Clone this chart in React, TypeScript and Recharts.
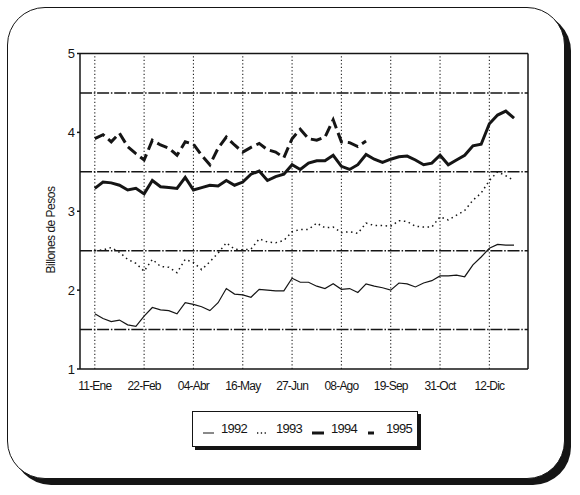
import React from "react";
import {
  LineChart,
  Line,
  XAxis,
  YAxis,
  ReferenceLine,
  Label,
} from "recharts";

// semanas (una cada 6 semanas lleva etiqueta)
const tickWeeks = [0, 6, 12, 18, 24, 30, 36, 42, 48];
const weekLabels = ["11-Ene", "22-Feb", "04-Abr", "16-May", "27-Jun", "08-Ago", "19-Sep", "31-Oct", "12-Dic"];
const yTicks = [1, 2, 3, 4, 5];
const gridLevels = [1.5, 2.5, 3.5, 4.5];

const v1992 = [
  1.7, 1.64, 1.6, 1.62, 1.56, 1.54, 1.67, 1.78, 1.75, 1.74, 1.7, 1.84, 1.82, 1.79, 1.74, 1.84, 2.02, 1.95, 1.94, 1.91,
  2.01, 2.0, 1.99, 1.99, 2.15, 2.1, 2.1, 2.05, 2.02, 2.08, 2.01, 2.02, 1.97, 2.08, 2.05, 2.03, 2.0, 2.09, 2.08, 2.04,
  2.09, 2.12, 2.18, 2.18, 2.19, 2.17, 2.32, 2.42, 2.53, 2.58, 2.57, 2.57,
];
const v1993 = [
  2.5, 2.51, 2.54, 2.48, 2.39, 2.34, 2.24, 2.39, 2.3, 2.29, 2.22, 2.39, 2.35, 2.26, 2.36, 2.47, 2.6, 2.52, 2.51, 2.52,
  2.65, 2.61, 2.6, 2.63, 2.74, 2.77, 2.77, 2.85, 2.79, 2.8, 2.73, 2.74, 2.72, 2.85, 2.82, 2.82, 2.81, 2.88, 2.87, 2.81,
  2.8, 2.8, 2.93, 2.89, 2.95, 3.01, 3.14, 3.23, 3.39, 3.5, 3.45, 3.39,
];
const v1994 = [
  3.29, 3.37, 3.36, 3.33, 3.27, 3.29, 3.22, 3.39, 3.31, 3.3, 3.29, 3.43, 3.27, 3.3, 3.33, 3.32, 3.39, 3.33, 3.37, 3.47,
  3.51, 3.39, 3.44, 3.47, 3.59, 3.53, 3.61, 3.64, 3.64, 3.71, 3.57, 3.53, 3.59, 3.72, 3.66, 3.62, 3.66, 3.69, 3.7, 3.65,
  3.59, 3.61, 3.71, 3.59, 3.65, 3.71, 3.83, 3.85, 4.11, 4.22, 4.27, 4.18,
];
const v1995 = [
  3.92, 3.97, 3.88, 3.99, 3.82, 3.73, 3.65, 3.9, 3.84, 3.8, 3.71, 3.88, 3.85, 3.71, 3.59, 3.8, 3.94, 3.84, 3.75, 3.81,
  3.86, 3.78, 3.75, 3.68, 3.92, 4.04, 3.92, 3.9, 3.94, 4.16, 3.88, 3.87, 3.82, 3.89,
];

const data = v1992.map((v, i) => ({
  week: i,
  y1992: v,
  y1993: v1993[i],
  y1994: v1994[i],
  y1995: i < v1995.length ? v1995[i] : null,
}));

const X_MIN = -1.8;
const X_MAX = 52.7;
const FONT = "'Liberation Sans', Arial, sans-serif";
const INK = "#151515";

const labelFor = (w: number) => weekLabels[tickWeeks.indexOf(w)] ?? "";

const YTitle = () => (
  <text
    x={52}
    y={230}
    transform="rotate(-90 52 230)"
    textAnchor="middle"
    dominantBaseline="middle"
    fontSize={12}
    letterSpacing={-0.5}
    fill={INK}
    fontFamily={FONT}
  >
    Billones de Pesos
  </text>
);

const LegendBox = () => (
  <div
    style={{
      position: "absolute",
      left: 192,
      top: 411,
      width: 226,
      height: 36,
      border: `1px solid ${INK}`,
      boxShadow: `3px 3px 0 ${INK}`,
      background: "#fff",
      boxSizing: "border-box",
    }}
  >
    <svg width={226} height={36} style={{ display: "block" }}>
      <g fontFamily={FONT} fontSize={13} fill={INK} letterSpacing={-0.7}>
        <line x1={10} x2={21} y1={21} y2={21} stroke={INK} strokeWidth={1} />
        <text x={28} y={21}>1992</text>
        <line x1={64} x2={74} y1={21} y2={21} stroke={INK} strokeWidth={1.3} strokeDasharray="1.3 2.5" />
        <text x={83} y={21}>1993</text>
        <line x1={119} x2={131} y1={21} y2={21} stroke={INK} strokeWidth={3} />
        <text x={138} y={21}>1994</text>
        <line x1={175} x2={181} y1={21} y2={21} stroke={INK} strokeWidth={3} />
        <text x={193} y={21}>1995</text>
      </g>
    </svg>
  </div>
);

export default function App() {
  return (
    <div style={{ position: "absolute", left: 0, top: 0, width: 580, height: 495, background: "#fff" }}>
      <div
        style={{
          position: "absolute",
          left: 7,
          top: 7,
          width: 558,
          height: 472,
          border: `1.5px solid ${INK}`,
          borderRadius: 38,
          boxShadow: `6px 6px 0 ${INK}`,
          boxSizing: "border-box",
          background: "#fff",
        }}
      />
      <div style={{ position: "absolute", left: 0, top: 0 }}>
        <LineChart
          width={580}
          height={495}
          data={data}
          margin={{ top: 53.5, right: 52, bottom: 96, left: 20 }}
        >
          {tickWeeks.map((w) => (
            <ReferenceLine key={`v${w}`} x={w} stroke="#222" strokeWidth={1.1} strokeDasharray="1.2 2.3" />
          ))}
          {gridLevels.map((g) => (
            <ReferenceLine key={g} y={g} stroke={INK} strokeWidth={1.4} strokeDasharray="12 1.8 1.5 1.8" />
          ))}
          <ReferenceLine y={5} stroke={INK} strokeWidth={1.5} />
          <ReferenceLine x={X_MAX} stroke={INK} strokeWidth={1.5} />
          <XAxis
            dataKey="week"
            type="number"
            domain={[X_MIN, X_MAX]}
            ticks={tickWeeks}
            tickFormatter={labelFor}
            height={30}
            tickLine={false}
            tickSize={6}
            tickMargin={6}
            stroke={INK}
            strokeWidth={1.5}
            tick={{ fontSize: 12, fill: INK, fontFamily: FONT, letterSpacing: -0.8 }}
            allowDataOverflow
          />
          <YAxis
            type="number"
            domain={[1, 5]}
            ticks={yTicks}
            width={60}
            tickSize={3}
            tickMargin={2}
            stroke={INK}
            strokeWidth={1.5}
            tick={{ fontSize: 13, fill: INK, fontFamily: FONT }}
          >
            <Label content={<YTitle />} />
          </YAxis>
          <Line dataKey="y1992" stroke={INK} strokeWidth={1.2} dot={false} isAnimationActive={false} />
          <Line
            dataKey="y1993"
            stroke={INK}
            strokeWidth={1.5}
            strokeDasharray="1.5 3.5"
            dot={false}
            isAnimationActive={false}
          />
          <Line dataKey="y1994" stroke={INK} strokeWidth={3} dot={false} isAnimationActive={false} />
          <Line
            dataKey="y1995"
            stroke={INK}
            strokeWidth={3}
            strokeDasharray="11 5"
            dot={false}
            isAnimationActive={false}
          />
        </LineChart>
      </div>
      <LegendBox />
    </div>
  );
}
